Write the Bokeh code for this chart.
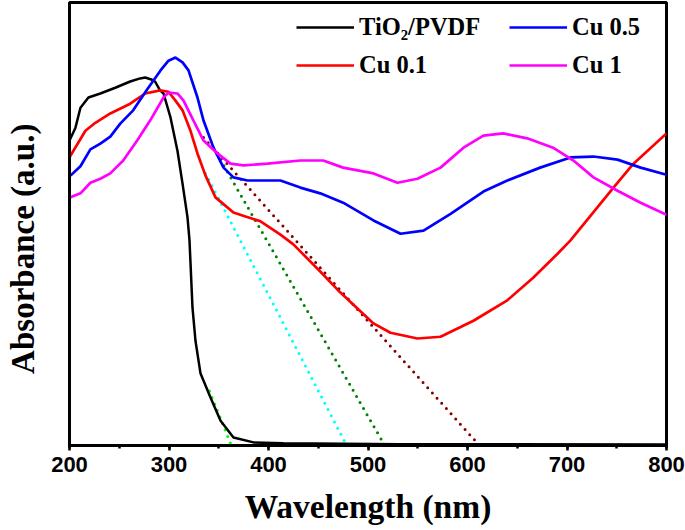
from bokeh.plotting import figure
from bokeh.models import Range1d, SingleIntervalTicker, FixedTicker, Legend, LegendItem
from bokeh.embed import file_html
from bokeh.resources import INLINE

# ---- data ----
wl_tio2 = [200, 206, 211, 219, 231, 246, 261, 271, 276, 283, 286, 291, 294.5, 301.5,
           308.5, 313.6, 318.6, 320.6, 323.6, 326.6, 331.7, 341.7, 351.8, 364.8,
           384.9, 415, 532, 800]
abs_tio2 = [0.687, 0.716, 0.761, 0.784, 0.793, 0.806, 0.820, 0.827, 0.829, 0.824, 0.820,
            0.800, 0.793, 0.739, 0.664, 0.590, 0.514, 0.462, 0.311, 0.236, 0.162, 0.108,
            0.056, 0.018, 0.007, 0.005, 0.003, 0.002]

wl_cu01 = [200, 216, 226, 241, 261, 276, 291, 299.5, 306.5, 313.6, 321.6, 328.6, 336.7,
           346.7, 364.8, 376.9, 392, 412, 425, 452, 472, 505.5, 522.6, 549.7, 572.9,
           606, 640, 666, 690.5, 703.5, 746.7, 766.8, 800]
abs_cu01 = [0.649, 0.709, 0.727, 0.748, 0.770, 0.793, 0.800, 0.797, 0.777, 0.755, 0.709,
            0.658, 0.608, 0.559, 0.525, 0.516, 0.505, 0.475, 0.453, 0.392, 0.345, 0.275,
            0.254, 0.241, 0.245, 0.281, 0.327, 0.378, 0.432, 0.462, 0.581, 0.635, 0.703]

wl_cu05 = [201, 211, 221, 231, 241, 251, 264, 278, 291.5, 299.5, 306.5, 313.6, 319.6,
           328.6, 334.7, 344.7, 354.8, 364.8, 378.9, 412, 432, 452, 475, 505.5, 532.7,
           555.8, 583, 616, 640, 673, 703.5, 726.6, 750.8, 774, 800]
abs_cu05 = [0.608, 0.629, 0.667, 0.680, 0.696, 0.725, 0.755, 0.802, 0.845, 0.867, 0.874,
            0.863, 0.845, 0.784, 0.732, 0.671, 0.626, 0.604, 0.597, 0.597, 0.581, 0.568,
            0.547, 0.507, 0.477, 0.484, 0.522, 0.572, 0.597, 0.626, 0.649, 0.651, 0.644,
            0.626, 0.610]

wl_cu1 = [201, 211, 221, 231, 241, 254, 268, 281, 294.5, 299.5, 308.5, 314.6, 324.6,
          334.7, 348.7, 361.8, 374.9, 399, 432, 455, 475, 505.5, 529.6, 549.7, 572.9,
          596, 616, 636, 660, 686, 706.5, 726.6, 750.8, 774, 800]
abs_cu1 = [0.559, 0.568, 0.592, 0.601, 0.613, 0.642, 0.687, 0.732, 0.784, 0.795, 0.793,
           0.777, 0.732, 0.687, 0.658, 0.635, 0.631, 0.635, 0.642, 0.642, 0.626, 0.613,
           0.592, 0.601, 0.626, 0.671, 0.698, 0.703, 0.692, 0.671, 0.642, 0.604, 0.574,
           0.547, 0.520]

# tangent (band-gap extrapolation) lines
tan_tio2_wl = [340.7, 361.8]
tan_tio2_abs = [0.123, 0.005]
tan_cu01_wl = [336.7, 477.4]
tan_cu01_abs = [0.613, 0.005]
tan_cu05_wl = [344.7, 515.6]
tan_cu05_abs = [0.671, 0.005]
tan_cu1_wl = [334.7, 610.0]
tan_cu1_abs = [0.694, 0.005]

x_ticks_interval = 100

p = figure(width=685, height=530, output_backend="svg", toolbar_location=None,
           x_range=Range1d(200, 800), y_range=Range1d(0, 0.998),
           min_border_left=69, min_border_right=19, min_border_top=2,
           min_border_bottom=85)
p.grid.visible = False
p.background_fill_color = "white"
p.border_fill_color = "white"
p.outline_line_color = "black"
p.outline_line_width = 3
p.outline_line_alpha = 1.0

xa = p.xaxis[0]
xa.ticker = SingleIntervalTicker(interval=x_ticks_interval, num_minor_ticks=2)
xa.axis_line_width = 3
xa.axis_line_color = "black"
xa.major_tick_line_width = 2.5
xa.minor_tick_line_width = 2.5
xa.major_tick_in = 0
xa.major_tick_out = 5
xa.minor_tick_in = 0
xa.minor_tick_out = 3
xa.major_label_text_font = "Liberation Sans"
xa.major_label_text_font_style = "bold"
xa.major_label_text_font_size = "22px"
xa.major_label_text_line_height = 1.0
xa.major_label_text_color = "black"
xa.major_label_standoff = 6
xa.axis_label = "Wavelength (nm)"
xa.axis_label_text_font = "Liberation Serif"
xa.axis_label_text_font_style = "bold"
xa.axis_label_text_font_size = "33.5px"
xa.axis_label_text_line_height = 1.0
xa.axis_label_text_color = "black"
xa.axis_label_standoff = 13

ya = p.yaxis[0]
ya.ticker = FixedTicker(ticks=[])
ya.major_tick_in = 0
ya.major_tick_out = 0
ya.minor_tick_in = 0
ya.minor_tick_out = 0
ya.major_label_standoff = 0
ya.axis_line_width = 3
ya.axis_line_color = "black"
# trailing no-break spaces push the centred title a little lower, as in the reference
ya.axis_label = "Absorbance (a.u.)" + "\u00a0" * 6
ya.axis_label_text_font = "Liberation Serif"
ya.axis_label_text_font_style = "bold"
ya.axis_label_text_font_size = "33px"
ya.axis_label_text_color = "black"
ya.axis_label_standoff = 29

dot = dict(line_width=3, line_dash="0 7", line_cap="round")
p.line(tan_tio2_wl, tan_tio2_abs, line_color="#00ff00", **dot)
p.line(tan_cu01_wl, tan_cu01_abs, line_color="#00ffff", **dot)
p.line(tan_cu05_wl, tan_cu05_abs, line_color="#008000", **dot)
p.line(tan_cu1_wl, tan_cu1_abs, line_color="#800000", **dot)

r_tio2 = p.line(wl_tio2, abs_tio2, line_color="black", line_width=2.5)
r_cu01 = p.line(wl_cu01, abs_cu01, line_color="#ff0000", line_width=2.7)
r_cu05 = p.line(wl_cu05, abs_cu05, line_color="#0000ff", line_width=2.7)
r_cu1 = p.line(wl_cu1, abs_cu1, line_color="#ff00ff", line_width=2.7)

legend = Legend(items=[
    LegendItem(label="TiO\u2082/PVDF", renderers=[r_tio2]),
    LegendItem(label="Cu 0.1", renderers=[r_cu01]),
    LegendItem(label="Cu 0.5", renderers=[r_cu05]),
    LegendItem(label="Cu 1", renderers=[r_cu1]),
], ncols=2, location=(227, 366))
legend.background_fill_alpha = 0
legend.border_line_color = None
legend.padding = 1
legend.margin = 0
legend.spacing = 10
legend.glyph_width = 58
legend.glyph_height = 28
legend.label_height = 28
legend.label_width = 140
legend.label_standoff = 5
legend.label_text_font = "Liberation Serif"
legend.label_text_font_style = "bold"
legend.label_text_font_size = "24.5px"
legend.label_text_color = "black"
p.add_layout(legend)

open("out.html", "w").write(file_html(p, INLINE))
